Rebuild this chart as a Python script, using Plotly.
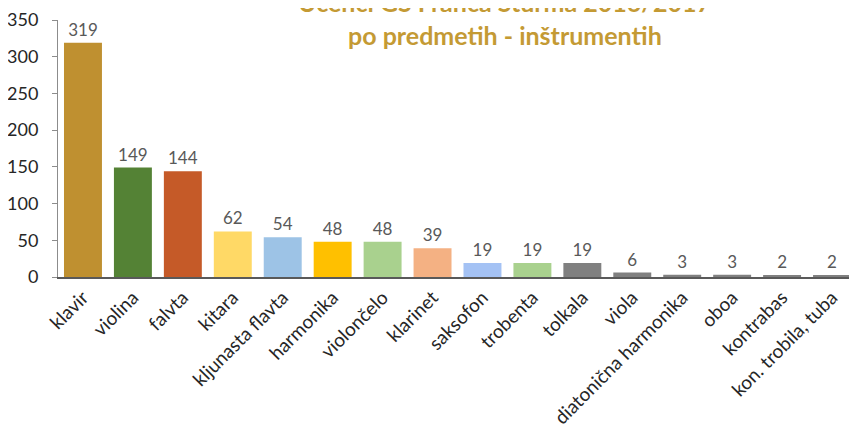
import plotly.graph_objects as go

categories = ["klavir", "violina", "falvta", "kitara", "kljunasta flavta", "harmonika",
              "violončelo", "klarinet", "saksofon", "trobenta", "tolkala", "viola",
              "diatonična harmonika", "oboa", "kontrabas", "kon. trobila, tuba"]
values = [319, 149, 144, 62, 54, 48, 48, 39, 19, 19, 19, 6, 3, 3, 2, 2]
colors = ["#BF9030", "#548235", "#C55A28", "#FFD966", "#9DC3E6", "#FFC000",
          "#A9D18E", "#F4B183", "#A4C2F4", "#A9D18E", "#808080", "#808080",
          "#808080", "#808080", "#808080", "#808080"]
y_ticks = [0, 50, 100, 150, 200, 250, 300, 350]

font_family = "Lato, Open Sans, sans-serif"

fig = go.Figure(go.Bar(
    x=categories, y=values, marker=dict(color=colors, line=dict(width=0)),
    width=0.76, text=[str(v) for v in values], textposition="outside",
    textfont=dict(size=17, color="#595959", family=font_family), cliponaxis=False,
))

fig.update_layout(
    width=849, height=424,
    margin=dict(l=50, r=0, t=12, b=155, autoexpand=False),
    plot_bgcolor="white", paper_bgcolor="white",
    showlegend=False,
    font=dict(family=font_family),
    annotations=[
        dict(text="<b>Učenci GŠ Franca Šturma 2016/2017</b>", xref="paper", yref="paper",
             x=0.559, y=1.07, yanchor="middle", xanchor="center", showarrow=False,
             font=dict(size=25, color="#C49A34", family=font_family)),
        dict(text="<b>po predmetih - inštrumentih</b>", xref="paper", yref="paper",
             x=0.559, y=0.942, yanchor="middle", xanchor="center", showarrow=False,
             font=dict(size=25, color="#C49A34", family=font_family)),
    ],
)
fig.update_xaxes(
    tickangle=-45, tickfont=dict(size=19, color="#262626", family=font_family),
    showline=True, linecolor="#595959", linewidth=2, ticks="",
    range=[-0.5, 15.5], automargin=False,
)
fig.update_yaxes(
    range=[0, 350], tickvals=y_ticks, showgrid=False, zeroline=False,
    showline=True, linecolor="#8C8C8C", linewidth=1, ticks="outside", ticklen=5,
    tickcolor="#8C8C8C", automargin=False, ticklabelstandoff=10,
    tickfont=dict(size=18, color="#262626", family=font_family),
)

fig.write_html("out.html")
